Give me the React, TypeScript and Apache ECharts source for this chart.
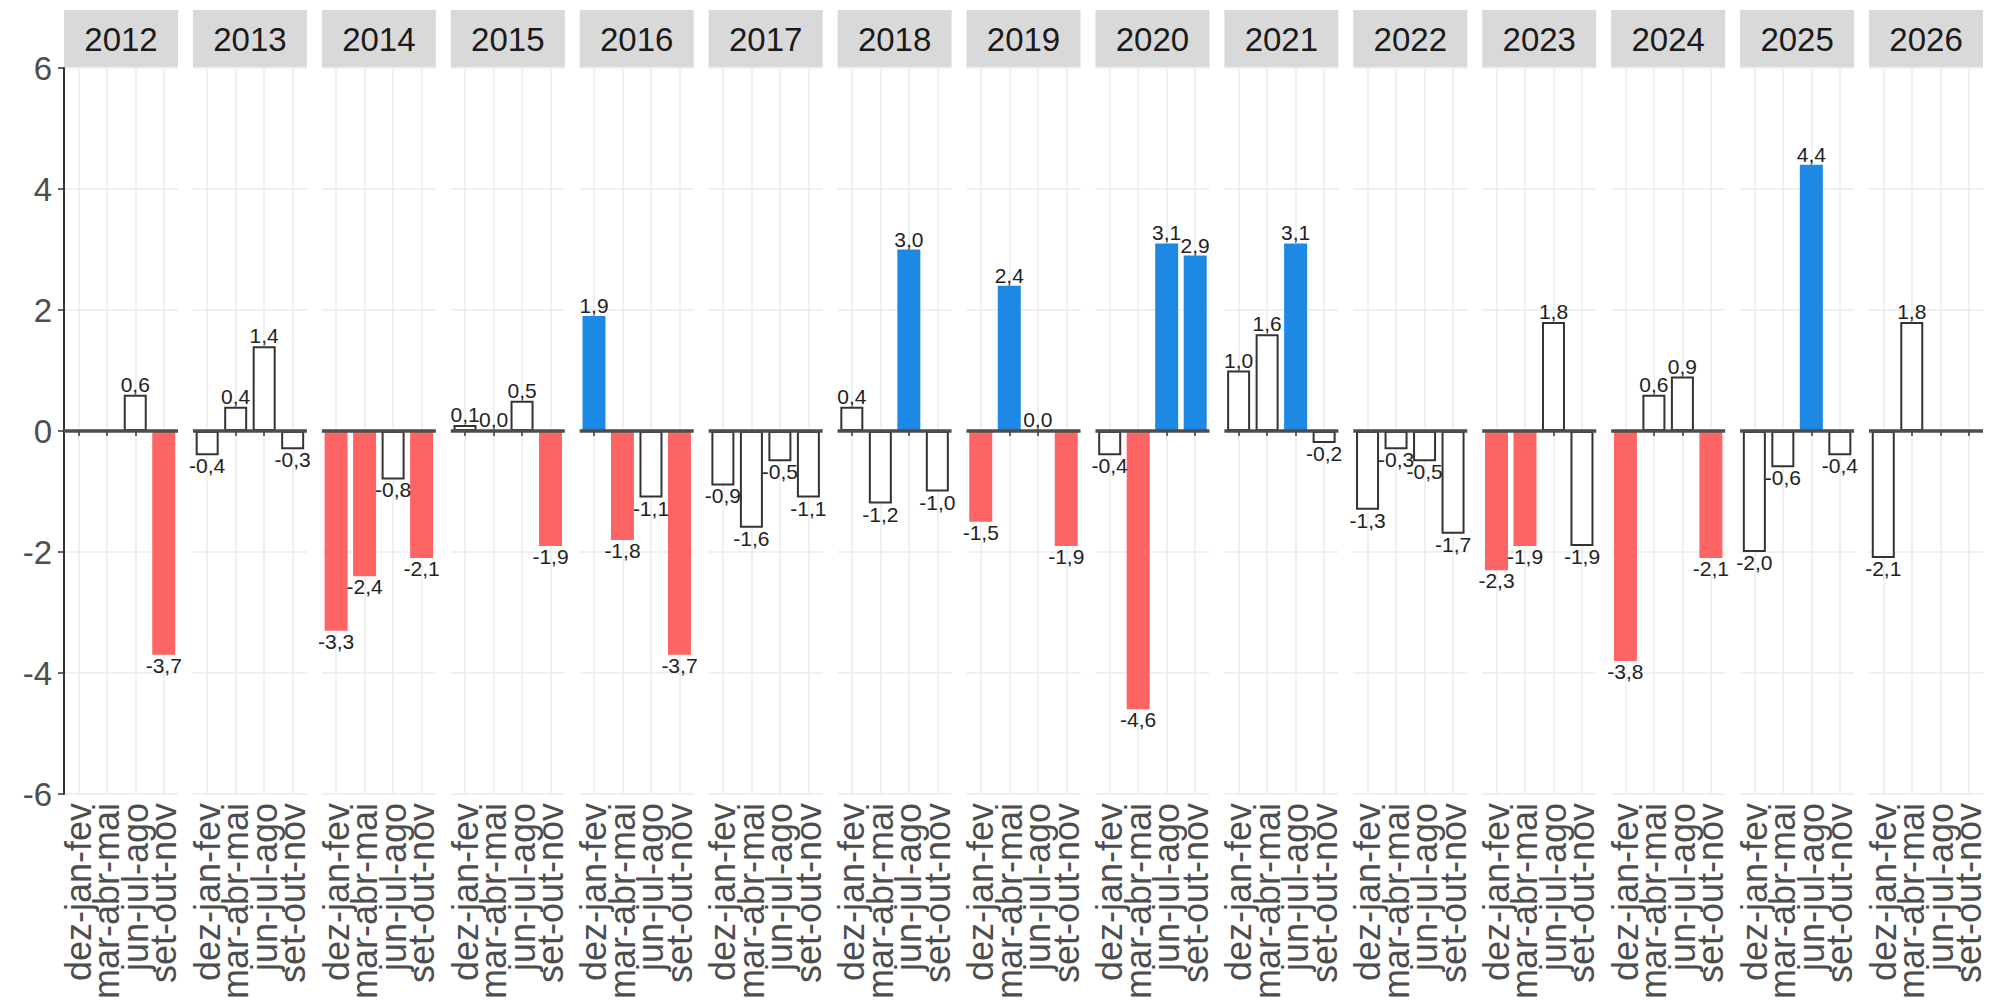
import React, { useEffect, useRef } from 'react';
import * as echarts from 'echarts';

const YEARS = ['2012', '2013', '2014', '2015', '2016', '2017', '2018', '2019', '2020', '2021', '2022', '2023', '2024', '2025', '2026'];
const SEASONS = ['dez-jan-fev', 'mar-abr-mai', 'jun-jul-ago', 'set-out-nov'];

// values per season (dez-jan-fev, mar-abr-mai, jun-jul-ago, set-out-nov)
const V2012 = [null, null, 0.6, -3.7];
const V2013 = [-0.4, 0.4, 1.4, -0.3];
const V2014 = [-3.3, -2.4, -0.8, -2.1];
const V2015 = [0.1, 0.0, 0.5, -1.9];
const V2016 = [1.9, -1.8, -1.1, -3.7];
const V2017 = [-0.9, -1.6, -0.5, -1.1];
const V2018 = [0.4, -1.2, 3.0, -1.0];
const V2019 = [-1.5, 2.4, 0.0, -1.9];
const V2020 = [-0.4, -4.6, 3.1, 2.9];
const V2021 = [1.0, 1.6, 3.1, -0.2];
const V2022 = [-1.3, -0.3, -0.5, -1.7];
const V2023 = [-2.3, -1.9, 1.8, -1.9];
const V2024 = [-3.8, 0.6, 0.9, -2.1];
const V2025 = [-2.0, -0.6, 4.4, -0.4];
const V2026 = [-2.1, 1.8, null, null];

// class per bar: N = normal, D = dry (red), W = wet (blue)
const C2012 = ['', '', 'N', 'D'];
const C2013 = ['N', 'N', 'N', 'N'];
const C2014 = ['D', 'D', 'N', 'D'];
const C2015 = ['N', 'N', 'N', 'D'];
const C2016 = ['W', 'D', 'N', 'D'];
const C2017 = ['N', 'N', 'N', 'N'];
const C2018 = ['N', 'N', 'W', 'N'];
const C2019 = ['D', 'W', 'N', 'D'];
const C2020 = ['N', 'D', 'W', 'W'];
const C2021 = ['N', 'N', 'W', 'N'];
const C2022 = ['N', 'N', 'N', 'N'];
const C2023 = ['D', 'D', 'N', 'N'];
const C2024 = ['D', 'N', 'N', 'D'];
const C2025 = ['N', 'N', 'W', 'N'];
const C2026 = ['N', 'N', '', ''];

const VALUES = [V2012, V2013, V2014, V2015, V2016, V2017, V2018, V2019, V2020, V2021, V2022, V2023, V2024, V2025, V2026];
const CLASSES = [C2012, C2013, C2014, C2015, C2016, C2017, C2018, C2019, C2020, C2021, C2022, C2023, C2024, C2025, C2026];

const Y_MIN = -6;
const Y_MAX = 6;
const Y_STEP = 2;

const FILL: Record<string, string> = { N: '#ffffff', D: '#ff6464', W: '#1e88e5' };
const FONT = 'Liberation Sans, Arial, Helvetica, sans-serif';

const fmt = (v: number) => v.toFixed(1).replace('.', ',');

export default function App() {
  const ref = useRef<HTMLDivElement>(null);
  useEffect(() => {
    document.body.style.margin = '0';
    document.body.style.overflow = 'hidden';
    const chart = echarts.init(ref.current!, null, { renderer: 'svg' });
    const left0 = 64;
    const pitch = 128.93;
    const pw = 114;
    const top = 68;
    const ph = 726;
    const grid: any[] = [];
    const xAxis: any[] = [];
    const yAxis: any[] = [];
    const series: any[] = [];
    const graphic: any[] = [];
    YEARS.forEach((yr, i) => {
      const left = left0 + i * pitch;
      grid.push({ left, top, width: pw, height: ph });
      xAxis.push({
        type: 'category',
        gridIndex: i,
        data: SEASONS,
        boundaryGap: true,
        axisLine: { show: false },
        axisTick: { show: true, alignWithLabel: true, length: 5, lineStyle: { color: '#333', width: 1.5 } },
        axisLabel: { rotate: 90, fontSize: 36, color: '#4d4d4d', margin: 9, interval: 0, fontFamily: FONT },
        splitLine: { show: false },
      });
      yAxis.push({
        type: 'value',
        gridIndex: i,
        min: Y_MIN,
        max: Y_MAX,
        interval: Y_STEP,
        axisLine: { show: i === 0, lineStyle: { color: '#333', width: 2 } },
        axisTick: { show: i === 0, length: 6, lineStyle: { color: '#333', width: 1.5 } },
        axisLabel: { show: i === 0, fontSize: 33, color: '#4d4d4d', margin: 12, fontFamily: FONT },
        splitLine: { show: true, lineStyle: { color: '#ebebeb', width: 1.5 } },
      });
      series.push({
        type: 'line',
        xAxisIndex: i,
        yAxisIndex: i,
        data: [],
        z: 0,
        zlevel: 0,
        silent: true,
        markLine: {
          silent: true,
          z: 0,
          symbol: 'none',
          label: { show: false },
          lineStyle: { color: '#ebebeb', width: 1.5, type: 'solid' },
          data: SEASONS.map((s) => ({ xAxis: s })),
        },
      });
      series.push({
        type: 'bar',
        xAxisIndex: i,
        yAxisIndex: i,
        barWidth: 23,
        z: 6,
        data: VALUES[i].map((v, j) => {
          if (v === null) return '-';
          const c = CLASSES[i][j];
          return {
            value: v,
            itemStyle: {
              color: FILL[c],
              borderColor: c === 'N' ? '#333' : FILL[c],
              borderWidth: c === 'N' ? 2 : 0,
            },
            label: { position: v >= 0 ? 'top' : 'bottom' },
          };
        }),
        label: {
          show: true,
          distance: 0,
          fontSize: 21,
          color: '#222',
          fontFamily: FONT,
          formatter: (p: any) => fmt(Number(p.value)),
        },
      });
      series.push({
        type: 'line',
        xAxisIndex: i,
        yAxisIndex: i,
        data: [],
        z: 10,
        silent: true,
        markLine: {
          silent: true,
          z: 10,
          symbol: 'none',
          label: { show: false },
          lineStyle: { color: '#4d4d4d', width: 3.5, type: 'solid' },
          data: [{ yAxis: 0 }],
        },
      });
      graphic.push({
        type: 'rect',
        shape: { x: left, y: 10, width: pw, height: 57 },
        style: { fill: '#d9d9d9' },
      });
      graphic.push({
        type: 'text',
        x: left + pw / 2,
        y: 39,
        style: { text: yr, fill: '#1a1a1a', font: `33px ${FONT}`, align: 'center', verticalAlign: 'middle' },
      });
    });
    chart.setOption({
      animation: false,
      backgroundColor: '#ffffff',
      grid,
      xAxis,
      yAxis,
      series,
      graphic,
    });
    return () => chart.dispose();
  }, []);
  return <div ref={ref} style={{ width: 1994, height: 1004 }} />;
}
